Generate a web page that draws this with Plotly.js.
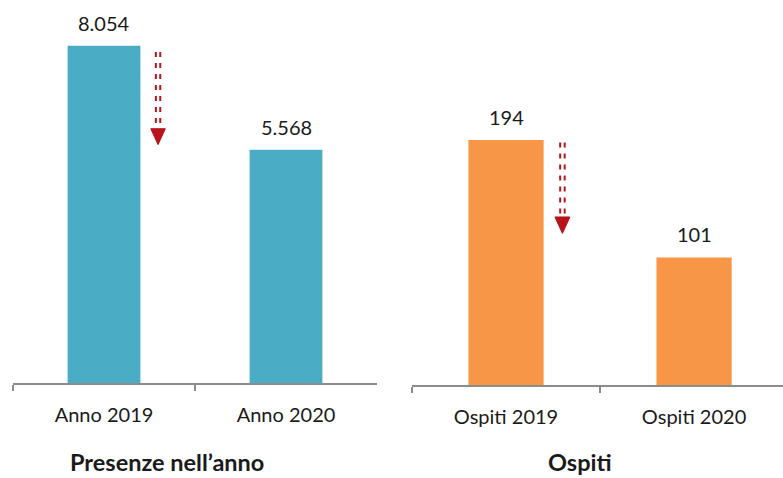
<!DOCTYPE html>
<html>
<head>
<meta charset="utf-8">
<script src="https://cdn.plot.ly/plotly-3.0.1.min.js"></script>
<style>html,body{margin:0;padding:0;background:#fff}#chart{width:783px;height:478px}</style>
</head>
<body>
<div id="chart"></div>
<script>
// Data
const presCategories = ["Anno 2019", "Anno 2020"];
const presValues = [8054, 5568];
const ospCategories = ["Ospiti 2019", "Ospiti 2020"];
const ospValues = [194, 101];
const panelTitles = ["Presenze nell\u2019anno", "Ospiti"];
// decorative arrow endpoints (data units): [start, end]
const presArrow = [7900, 5690];
const ospArrow = [192, 120];

function fmt(v) { return v.toString().replace(/\B(?=(\d{3})+(?!\d))/g, "."); }

const FONT = "Lato, 'Noto Sans', sans-serif";
const TEXT = "#1a1a1a";
const RED = "#B8141C";

const traces = [
  {type: "bar", x: presCategories, y: presValues, width: 0.4, marker: {color: "#4BACC6"},
   xaxis: "x", yaxis: "y", hoverinfo: "none"},
  {type: "bar", x: ospCategories, y: ospValues, width: 0.4, marker: {color: "#F79646"},
   xaxis: "x2", yaxis: "y2", hoverinfo: "none"}
];

const annotations = [];
presCategories.forEach((c, i) => annotations.push({x: c, y: presValues[i], xref: "x", yref: "y",
  text: fmt(presValues[i]), showarrow: false, yanchor: "bottom", yshift: 9, font: {size: 20, color: TEXT, family: FONT}}));
ospCategories.forEach((c, i) => annotations.push({x: c, y: ospValues[i], xref: "x2", yref: "y2",
  text: fmt(ospValues[i]), showarrow: false, yanchor: "bottom", yshift: 9, font: {size: 20, color: TEXT, family: FONT}}));
annotations.push({x: 167/783, y: 16/478, xref: "paper", yref: "paper", xanchor: "center", yanchor: "middle",
  text: "<b>" + panelTitles[0] + "</b>", showarrow: false, borderpad: 0, font: {size: 23.5, color: TEXT, family: FONT}});
annotations.push({x: 580/783, y: 16/478, xref: "paper", yref: "paper", xanchor: "center", yanchor: "middle",
  text: "<b>" + panelTitles[1] + "</b>", showarrow: false, borderpad: 0, font: {size: 23.5, color: TEXT, family: FONT}});

function arrowShapes(xref, yref, xc, yr, headH) {
  const s = [];
  const off = 0.012;
  [-off, off].forEach(d => s.push({type: "line", xref, yref, x0: xc + d, x1: xc + d, y0: yr[0], y1: yr[1] + headH * 0.6,
    line: {color: RED, width: 2, dash: "5px,6px"}}));
  s.push({type: "path", xref, yref, fillcolor: RED, line: {color: RED, width: 1},
    path: `M ${xc - 0.04} ${yr[1] + headH} L ${xc + 0.04} ${yr[1] + headH} L ${xc} ${yr[1]} Z`});
  return s;
}
const shapes = [].concat(
  arrowShapes("x", "y", 0.297, presArrow, 380),
  arrowShapes("x2", "y2", 0.30, ospArrow, 13)
);

const axisBase = {type: "category", showgrid: false, zeroline: false, showline: true, linecolor: "#8c8c8c", linewidth: 1.5,
  ticks: "outside", tickson: "boundaries", ticklen: 6, tickcolor: "#8c8c8c", tickwidth: 1.5,
  tickfont: {size: 20, color: TEXT, family: FONT}, ticklabelstandoff: 13, fixedrange: true};

const layout = {
  width: 783, height: 478, margin: {l: 0, r: 0, t: 0, b: 0},
  paper_bgcolor: "#fff", plot_bgcolor: "#fff", showlegend: false,
  xaxis: Object.assign({}, axisBase, {domain: [13/783, 377/783], range: [-0.5, 1.5], anchor: "y"}),
  yaxis: {domain: [95/478, 472/478], range: [0, 9000], visible: false, anchor: "x"},
  xaxis2: Object.assign({}, axisBase, {domain: [412/783, 1], range: [-0.5, 1.473], anchor: "y2"}),
  yaxis2: {domain: [93/478, 472/478], range: [0, 300], visible: false, anchor: "x2"},
  annotations, shapes
};

Plotly.newPlot("chart", traces, layout, {displayModeBar: false, staticPlot: true});
</script>
</body>
</html>
